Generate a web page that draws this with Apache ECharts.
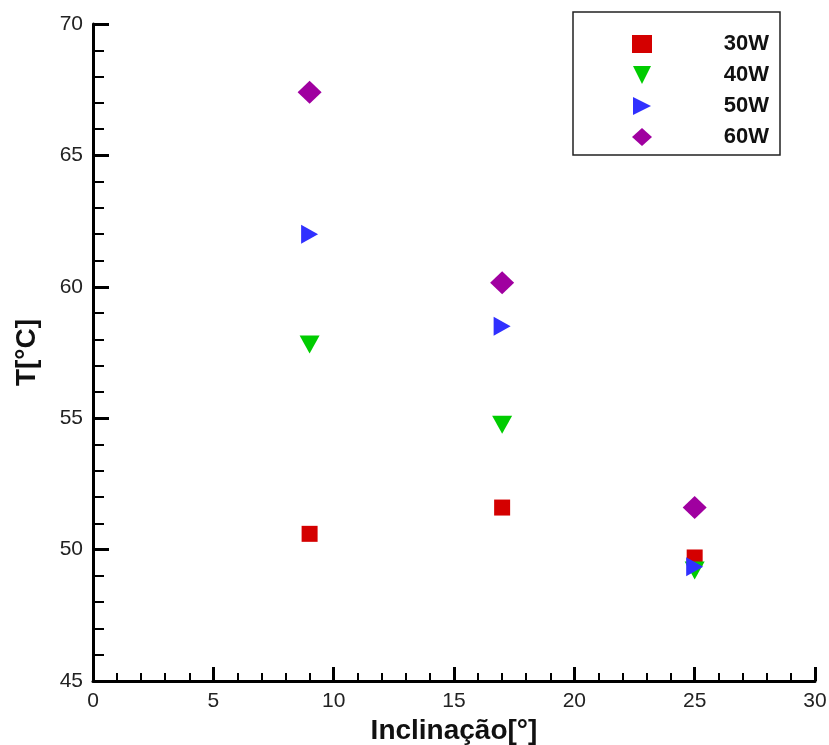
<!DOCTYPE html>
<html>
<head>
<meta charset="utf-8">
<script src="https://cdn.jsdelivr.net/npm/echarts@6/dist/echarts.min.js"></script>
<style>html,body{margin:0;padding:0;background:#fff}#c{width:829px;height:745px}</style>
</head>
<body>
<div id="c"></div>
<script>
var xValues = [9, 17, 25];
var seriesNames = ['30W', '40W', '50W', '60W'];
var t30 = [50.6, 51.6, 49.7];
var t40 = [57.8, 54.75, 49.2];
var t50 = [62.0, 58.5, 49.35];
var t60 = [67.4, 60.15, 51.6];
var xTicks = [0, 5, 10, 15, 20, 25, 30];
var yTicks = [45, 50, 55, 60, 65, 70];

var colors = ['#d40000', '#00cc00', '#3030ff', '#a000a0'];
var symbols = ['rect', 'path://M0,0 L2,0 L1,2 Z', 'path://M0,0 L2,1 L0,2 Z', 'diamond'];
var sizes = [[16, 16], [20, 18], [17, 19], [24, 23]];
var allData = [t30, t40, t50, t60];

function pairs(v) { return xValues.map(function (x, i) { return [x, v[i]]; }); }

var font = 'Liberation Sans, Arial, sans-serif';
var chart = echarts.init(document.getElementById('c'), null, { renderer: 'canvas' });
chart.setOption({
  animation: false,
  backgroundColor: '#fff',
  grid: { left: 93, right: 14, top: 24, bottom: 64, outerBoundsMode: 'none', containLabel: false },
  legend: {
    orient: 'vertical',
    left: 573,
    top: 12,
    padding: [21, 11, 7, 59],
    itemGap: 9,
    itemWidth: 20,
    itemHeight: 18,
    borderColor: '#222',
    borderWidth: 1.5,
    data: seriesNames,
    formatter: function (n) { return '{a|' + n + '}'; },
    textStyle: {
      lineHeight: 18,
      rich: { a: { width: 112, height: 18, lineHeight: 18, align: 'right', fontFamily: font, fontWeight: 'bold', fontSize: 22, color: '#111' } }
    }
  },
  xAxis: {
    type: 'value',
    min: xTicks[0], max: xTicks[xTicks.length - 1], interval: 5,
    name: 'Inclinação[°]',
    nameLocation: 'middle',
    nameGap: 30,
    nameTextStyle: { fontFamily: font, fontWeight: 'bold', fontSize: 28, color: '#111' },
    axisLine: { show: true, lineStyle: { color: '#000', width: 3 } },
    axisTick: { show: true, inside: true, length: 14, lineStyle: { color: '#000', width: 3 } },
    minorTick: { show: true, splitNumber: 5, length: 8, lineStyle: { color: '#000', width: 2 } },
    splitLine: { show: false },
    axisLabel: { margin: 10, fontFamily: font, fontSize: 21, color: '#222' }
  },
  yAxis: {
    type: 'value',
    min: yTicks[0], max: yTicks[yTicks.length - 1], interval: 5,
    name: 'T[°C]',
    nameLocation: 'middle',
    nameGap: 52,
    nameTextStyle: { fontFamily: font, fontWeight: 'bold', fontSize: 28, color: '#111' },
    axisLine: { show: true, lineStyle: { color: '#000', width: 3 } },
    axisTick: { show: true, inside: true, length: 16, lineStyle: { color: '#000', width: 3 } },
    minorTick: { show: true, splitNumber: 5, length: 11, lineStyle: { color: '#000', width: 2 } },
    splitLine: { show: false },
    axisLabel: { margin: 10, fontFamily: font, fontSize: 21, color: '#222' }
  },
  series: seriesNames.map(function (n, i) {
    return {
      name: n,
      type: 'scatter',
      symbol: symbols[i],
      symbolSize: sizes[i],
      itemStyle: { color: colors[i], opacity: 1 },
      data: pairs(allData[i]),
      z: 2 + i
    };
  })
});
</script>
</body>
</html>
